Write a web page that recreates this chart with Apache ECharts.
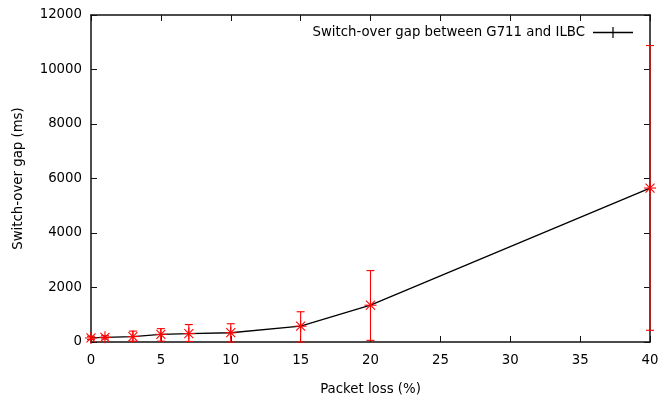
<!DOCTYPE html>
<html><head><meta charset="utf-8">
<script src="https://cdn.jsdelivr.net/npm/echarts@6/dist/echarts.min.js"></script>
<style>html,body{margin:0;padding:0;background:#fff}#c{width:659px;height:398px}</style>
</head><body><div id="c"></div>
<script>
var loss = [0, 1, 3, 5, 7, 10, 15, 20, 40];
var gap = [150, 170, 200, 280, 310, 340, 580, 1350, 5650];
var gapLow = [90, 110, 30, 30, 20, 0, 0, 60, 430];
var gapHigh = [210, 230, 400, 490, 640, 670, 1110, 2620, 10880];
var seriesName = 'Switch-over gap between G711 and ILBC';

var font = 'DejaVu Sans';
var fs = 13.3;
var chart = echarts.init(document.getElementById('c'));
var errData = loss.map(function (x, i) { return [x, gap[i], gapLow[i], gapHigh[i]]; });
var lineData = loss.map(function (x, i) { return [x, gap[i]]; });

function axisCommon() {
  return {
    type: 'value', min: 0, z: 0,
    axisLine: { show: true, onZero: false, lineStyle: { color: '#111', width: 1.5 } },
    axisTick: { show: true, inside: true, length: 6, lineStyle: { color: '#111', width: 1 } },
    splitLine: { show: false }
  };
}
var xb = axisCommon(); xb.max = 40; xb.interval = 5; xb.position = 'bottom';
xb.axisLabel = { color: '#000', fontFamily: font, fontSize: fs, margin: 12 };
xb.name = 'Packet loss (%)'; xb.nameLocation = 'middle'; xb.nameGap = 41;
xb.nameTextStyle = { color: '#000', fontFamily: font, fontSize: fs };
var xt = axisCommon(); xt.max = 40; xt.interval = 5; xt.position = 'top';
xt.axisLabel = { show: false };
var yl = axisCommon(); yl.max = 12000; yl.interval = 2000; yl.position = 'left';
yl.axisLabel = { color: '#000', fontFamily: font, fontSize: fs, margin: 9, formatter: function (v) { return String(v); } };
yl.name = 'Switch-over gap (ms)'; yl.nameLocation = 'middle'; yl.nameGap = 66;
yl.nameTextStyle = { color: '#000', fontFamily: font, fontSize: fs };
var yr = axisCommon(); yr.max = 12000; yr.interval = 2000; yr.position = 'right';
yr.axisLabel = { show: false };

chart.setOption({
  animation: false,
  grid: { left: 91, right: 9, top: 15, bottom: 56, containLabel: false, outerBoundsMode: 'none' },
  xAxis: [xb, xt],
  yAxis: [yl, yr],
  legend: {
    right: 21, top: 21, align: 'right', itemWidth: 40, itemHeight: 11, itemGap: 8,
    data: [{ name: seriesName, icon: 'path://M0,4.75h40v1.5h-40z M19.4,0h1.2v11h-1.2z' }],
    textStyle: { color: '#000', fontFamily: font, fontSize: fs, padding: [0, 3, 0, 0] },
    itemStyle: { color: '#000', borderWidth: 0 }
  },
  series: [
    {
      name: seriesName, type: 'line', data: lineData, showSymbol: false, symbol: 'none',
      lineStyle: { color: '#000', width: 1.3 }, itemStyle: { color: '#000' }, z: 2
    },
    {
      type: 'custom', data: errData, clip: false, z: 10, zlevel: 1,
      encode: { x: 0, y: 1 },
      renderItem: function (params, api) {
        var x = api.value(0);
        var c = api.coord([x, api.value(1)]);
        var lo = api.coord([x, api.value(2)]);
        var hi = api.coord([x, api.value(3)]);
        var cap = 4, m = 6, d = 4.5;
        var st = { stroke: '#ff0000', lineWidth: 1.1, fill: null };
        return {
          type: 'group',
          children: [
            { type: 'line', shape: { x1: lo[0], y1: lo[1], x2: hi[0], y2: hi[1] }, style: st },
            { type: 'line', shape: { x1: lo[0] - cap, y1: lo[1], x2: lo[0] + cap, y2: lo[1] }, style: st },
            { type: 'line', shape: { x1: hi[0] - cap, y1: hi[1], x2: hi[0] + cap, y2: hi[1] }, style: st },
            { type: 'line', shape: { x1: c[0] - m, y1: c[1], x2: c[0] + m, y2: c[1] }, style: st },
            { type: 'line', shape: { x1: c[0], y1: c[1] - m, x2: c[0], y2: c[1] + m }, style: st },
            { type: 'line', shape: { x1: c[0] - d, y1: c[1] - d, x2: c[0] + d, y2: c[1] + d }, style: st },
            { type: 'line', shape: { x1: c[0] - d, y1: c[1] + d, x2: c[0] + d, y2: c[1] - d }, style: st }
          ]
        };
      }
    }
  ]
});
</script></body></html>
